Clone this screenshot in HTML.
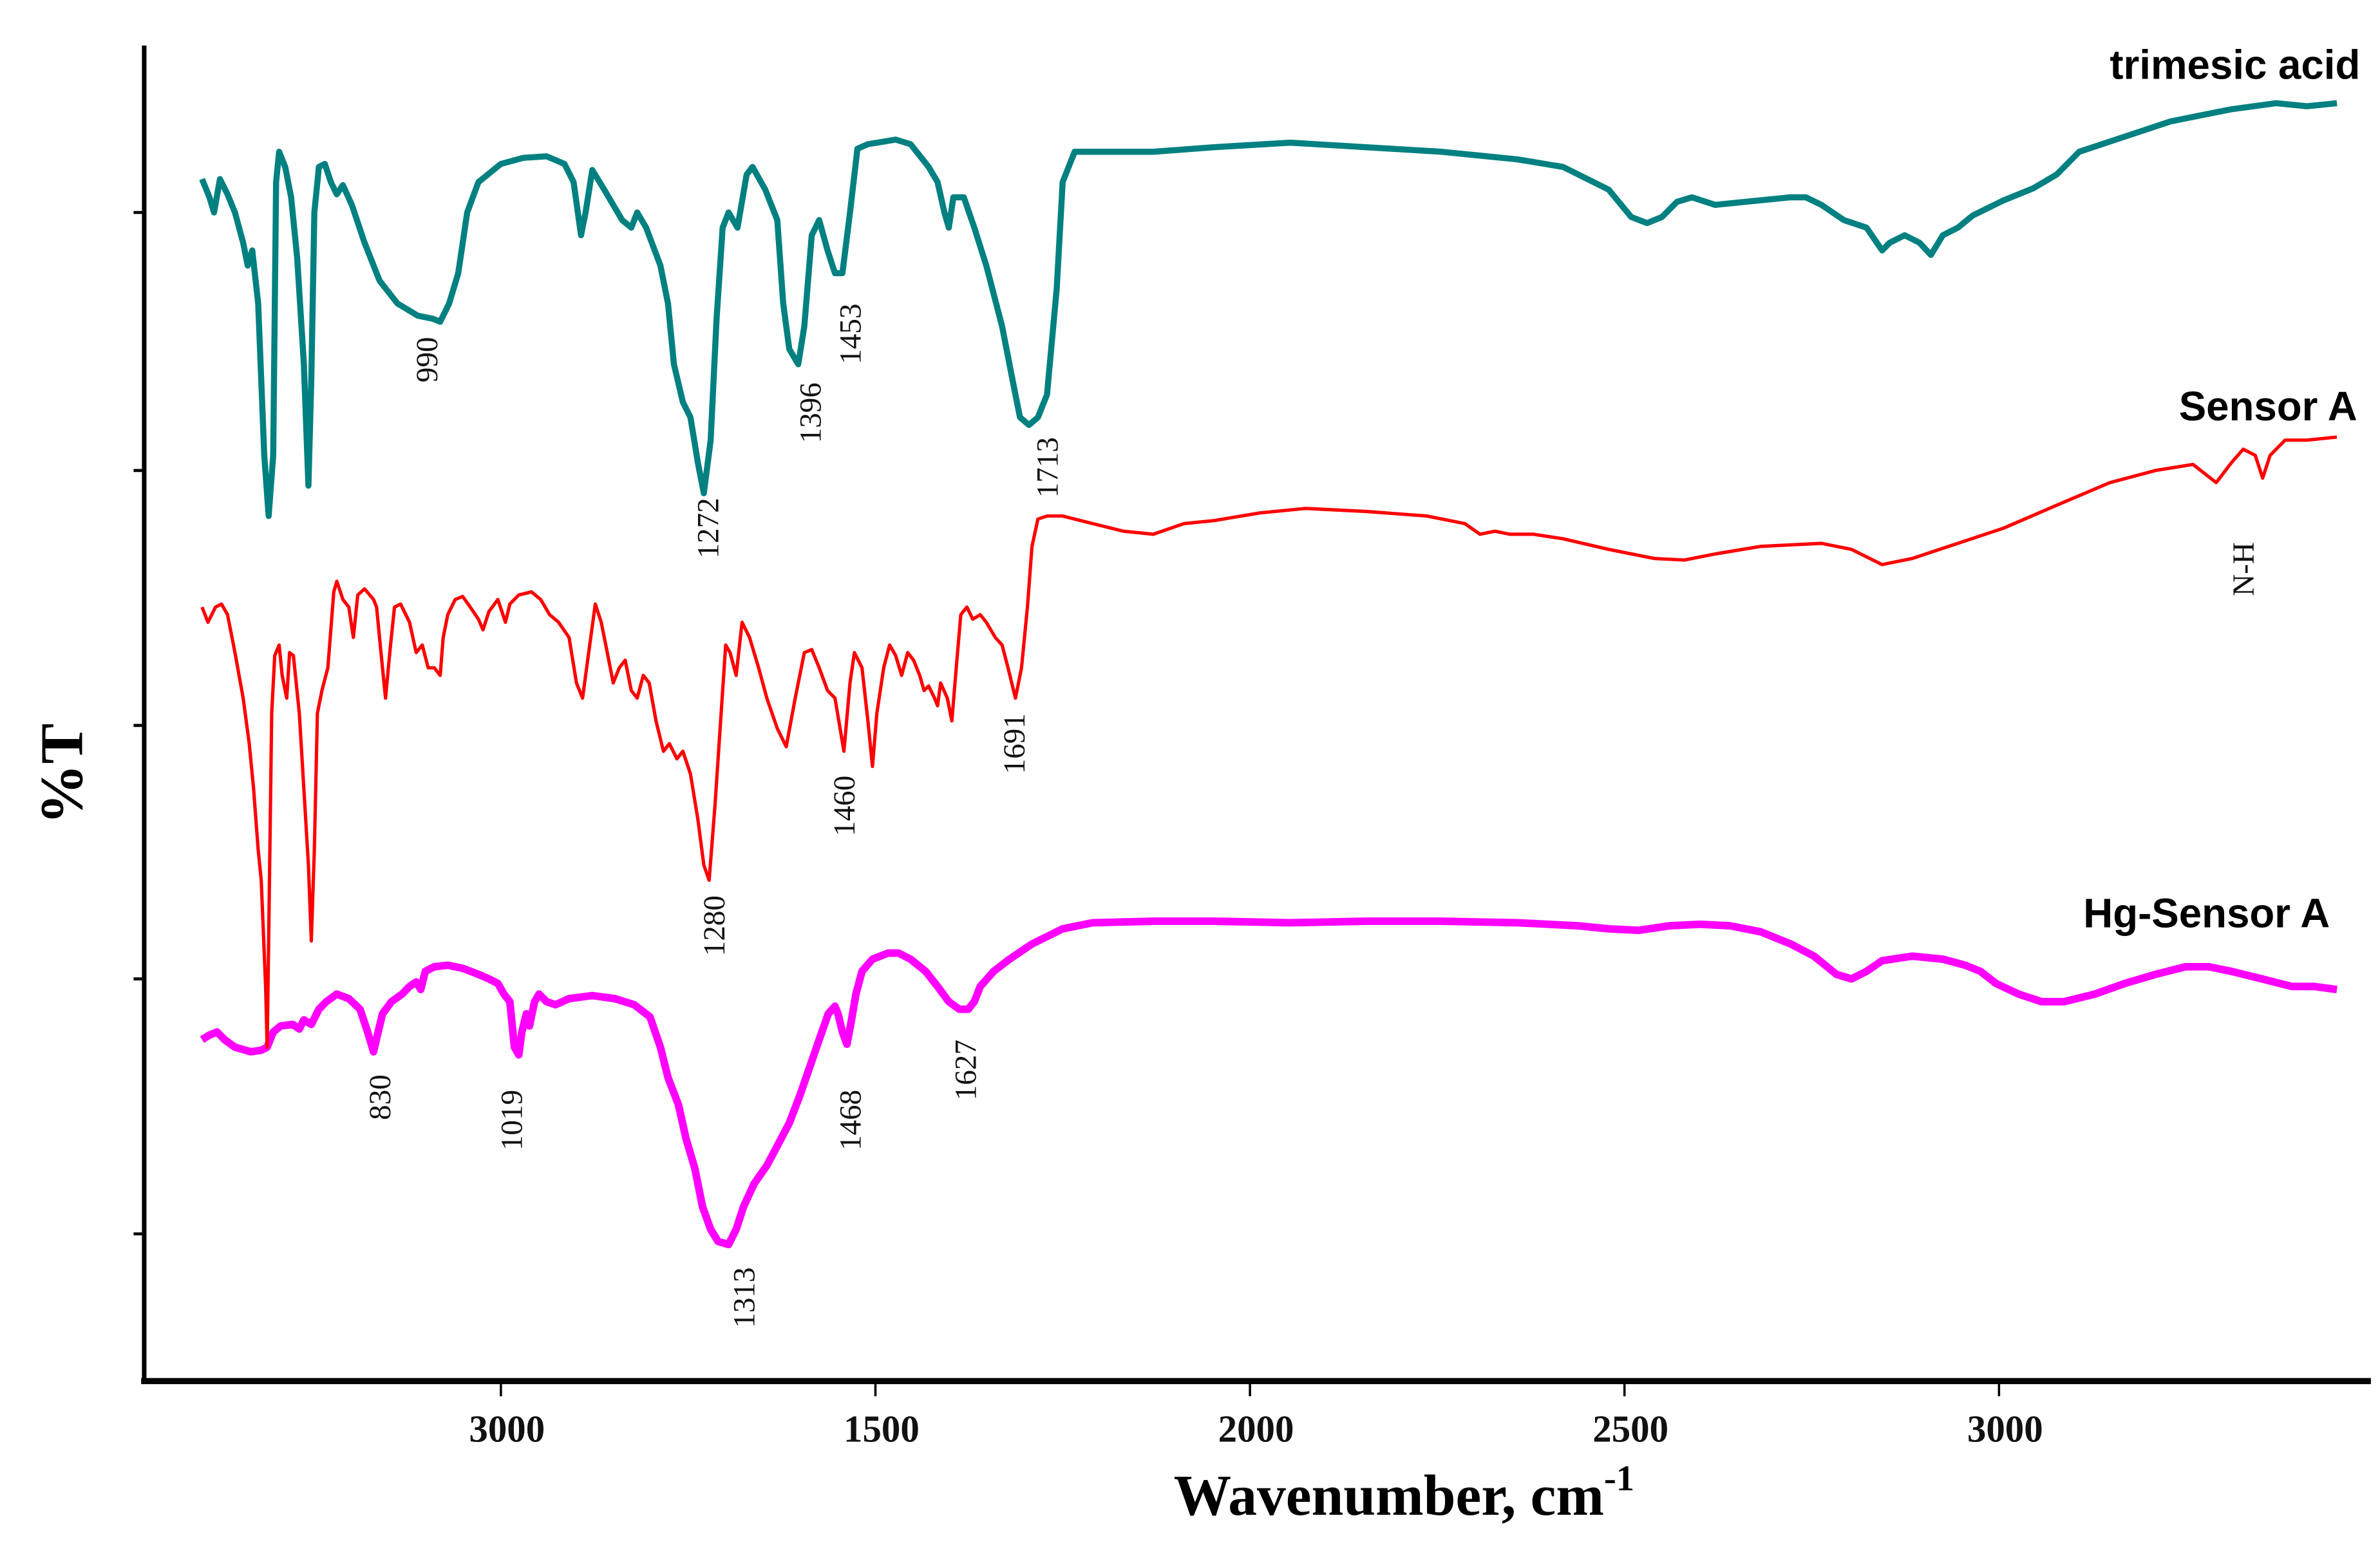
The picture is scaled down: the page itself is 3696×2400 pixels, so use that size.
<!DOCTYPE html>
<html><head><meta charset="utf-8"><style>
html,body{margin:0;padding:0;background:#fff;}
svg{display:block;}
text{font-family:"Liberation Serif",serif;}
.lbl{font-size:20px;fill:#111;}
.tick{font-size:25px;font-weight:bold;fill:#111;}
.ser{font-family:"Liberation Sans",sans-serif;font-weight:bold;font-size:27px;fill:#000;}
</style></head><body>
<svg id="chart" width="3696" height="2400" viewBox="0 0 1568 1018" preserveAspectRatio="none" xmlns="http://www.w3.org/2000/svg">
<g id="axes">
<line x1="95" y1="30" x2="95" y2="911" stroke="#000" stroke-width="3"/>
<line x1="93" y1="910" x2="1562" y2="910" stroke="#000" stroke-width="4"/>
</g>
<g id="yticks"></g>
<g id="xticks"></g>
<g id="series"></g>
<g id="peaks"></g>
<text transform="translate(54,510) rotate(-90)" text-anchor="middle" font-size="40" font-weight="bold">%T</text>
<text x="925" y="998" text-anchor="middle" font-size="38" font-weight="bold">Wavenumber, cm<tspan font-size="24" dy="-16">-1</tspan></text>
<text class="ser" x="1555" y="52" text-anchor="end">trimesic acid</text>
<text class="ser" x="1553" y="277" text-anchor="end">Sensor A</text>
<text class="ser" x="1535" y="611" text-anchor="end">Hg-Sensor A</text>
</svg>
<script>
const xTickValues=[1000,1500,2000,2500,3000];
const xTickLabels=["3000","1500","2000","2500","3000"];
const yTickValues=[77,60,43.2,26.5,9.7];

const trimesicWn=[601,611,617,625,635,645,656,662,668,676,684,690,696,700,704,712,720,728,737,743,747,751,757,765,773,781,789,801,818,838,862,889,909,919,931,943,955,970,1000,1030,1061,1085,1097,1107,1113,1122,1138,1162,1174,1182,1194,1213,1223,1231,1243,1253,1263,1271,1280,1288,1296,1304,1316,1328,1336,1353,1369,1377,1385,1397,1405,1415,1425,1436,1446,1456,1466,1476,1490,1527,1547,1571,1583,1592,1598,1604,1618,1632,1648,1669,1685,1693,1705,1717,1729,1742,1750,1766,1790,1871,1952,2054,2155,2256,2357,2418,2479,2509,2530,2550,2570,2590,2621,2661,2722,2742,2763,2793,2823,2844,2854,2874,2894,2909,2925,2945,2965,3006,3046,3077,3107,3168,3229,3310,3370,3411,3451];
const trimesicT=[79.2,78,77,79.2,78.2,77,75,73.5,74.5,71,61,57,61,79,81,80,78,74,67,59,66,77,80,80.2,79,78.2,78.8,77.5,75,72.5,71,70.2,70,69.8,71,73,77,79,80.2,80.6,80.7,80.2,79,75.5,77,79.8,78.5,76.5,76,77,76,73.5,71,67,64.5,63.5,60.5,58.5,62,70,76,77,76,79.5,80,78.5,76.5,71,68,67,69.5,75.5,76.5,74.5,73,73,77,81.2,81.5,81.8,81.5,80,79,77,76,78,78,76,73.5,69.5,65.5,63.5,63,63.5,65,72,79,81,81,81,81.3,81.6,81.3,81,80.5,80,78.5,76.7,76.3,76.7,77.7,78,77.5,77.7,78,78,77.5,76.5,76,74.5,75,75.5,75,74.2,75.5,76,76.8,77.8,78.6,79.5,81,82,83,83.8,84.2,84,84.2];

const sensorWn=[601,609,619,627,635,645,656,664,670,676,680,686,688,690,694,698,704,708,714,718,723,731,737,743,747,751,755,761,769,777,781,789,797,803,809,818,830,834,840,846,852,858,866,878,887,895,903,911,919,923,929,939,949,959,970,976,984,996,1006,1012,1024,1041,1053,1065,1077,1091,1101,1109,1120,1126,1134,1142,1150,1158,1166,1174,1182,1190,1198,1207,1217,1225,1235,1243,1253,1263,1271,1278,1286,1294,1300,1306,1314,1322,1332,1344,1355,1369,1381,1393,1405,1415,1425,1436,1446,1458,1466,1472,1482,1490,1496,1502,1511,1519,1527,1535,1543,1551,1559,1565,1571,1579,1583,1587,1596,1602,1608,1614,1622,1630,1640,1648,1660,1669,1677,1687,1695,1703,1709,1717,1729,1750,1790,1831,1871,1912,1952,2013,2074,2155,2236,2287,2307,2327,2347,2378,2418,2479,2540,2580,2621,2682,2763,2803,2844,2884,2945,3006,3067,3148,3209,3259,3290,3310,3326,3342,3352,3362,3382,3411,3451];
const sensorT=[51,50,51,51.2,50.5,48,45,42,39,35,33,26,22,29,44,47.8,48.5,46.5,45,48,47.8,44,39,34,29,35,44,45.5,47,52,52.7,51.5,51,49,51.8,52.2,51.5,51,48,45,48.2,51,51.2,50,48,48.5,47,47,46.5,49,50.5,51.5,51.7,51,50.2,49.5,50.7,51.5,50,51.2,51.8,52,51.5,50.5,50,49,46,45,49,51.2,50,48,46,47,47.5,45.5,45,46.5,46,43.5,41.5,42,41,41.5,40,37,34,33,38,44,48.5,48,46.5,50,49,47,45,43,41.8,45,48,48.2,47,45.5,45,41.5,46,48,47,43.5,40.5,44,47,48.5,47.8,46.5,48,47.5,46.5,45.5,45.8,45,44.5,46,45,43.5,47,50.5,51,50.2,50.5,50,49,48.5,47,45,47,51,55,56.8,57,57,56.5,56,55.8,56.5,56.7,57.2,57.5,57.3,57,56.5,55.8,56,55.8,55.8,55.5,54.8,54.2,54.1,54.5,55,55.2,54.8,53.8,54.2,55.2,56.2,57.5,59.2,60,60.4,59.2,60.5,61.4,61,59.5,61,62,62,62.2];

const hgWn=[601,611,621,631,645,666,680,688,696,706,722,731,737,747,757,767,781,797,812,822,830,836,842,854,868,878,887,893,899,911,929,949,970,984,996,1004,1012,1018,1024,1028,1034,1038,1045,1051,1061,1073,1091,1122,1152,1178,1199,1213,1223,1237,1247,1259,1269,1280,1290,1304,1314,1324,1338,1355,1369,1385,1399,1411,1425,1437,1446,1450,1456,1462,1468,1474,1482,1496,1517,1531,1547,1567,1583,1598,1612,1624,1632,1640,1658,1679,1709,1750,1790,1871,1952,2054,2155,2256,2357,2438,2479,2519,2560,2601,2641,2682,2722,2753,2783,2803,2823,2844,2884,2925,2955,2975,2996,3026,3057,3087,3128,3168,3209,3249,3280,3310,3351,3391,3421,3451];
const hgT=[22.5,22.8,23,22.5,22,21.7,21.8,22,23,23.4,23.5,23.2,23.8,23.5,24.5,25,25.5,25.2,24.5,23,21.7,23,24.2,25,25.5,26,26.3,25.8,27,27.3,27.4,27.2,26.8,26.5,26.2,25.5,25,22,21.5,23,24.2,23.4,25,25.5,25,24.8,25.2,25.4,25.2,24.8,24,22,20,18.2,16,14,11.5,10,9.2,9,10,11.5,13,14.2,15.5,17,18.8,20.5,22.5,24.2,24.7,24.2,23,22.2,23.8,25.5,27,27.8,28.2,28.2,27.8,27,26,25,24.5,24.5,25,26,27,27.8,28.8,29.8,30.2,30.3,30.3,30.2,30.3,30.3,30.2,30,29.8,29.7,30,30.1,30,29.6,28.8,28,26.8,26.5,27,27.7,28,27.8,27.4,27,26.2,25.5,25,25,25.5,26.2,26.8,27.3,27.3,27,26.5,26,26,25.8];

const peakTexts=["990","1272","1396","1453","1713","1280","1460","1691","N-H","830","1019","1313","1468","1627"];
const peakWn=[901,1276,1413,1466,1729,1284,1458,1685,3326,838,1014,1324,1466,1620];
const peakLabelT=[67.3,56.2,63.8,69,60.2,30,37.9,42,53.5,18.7,17.2,5.5,17.2,20.5];

const NS="http://www.w3.org/2000/svg";
function xs(w){return 330+(w-1000)*0.4935;}
function ys(t){return 910-t*10;}

const yt=document.getElementById('yticks');
yTickValues.forEach(v=>{
  const l=document.createElementNS(NS,'line');
  
  
  l.setAttribute('x1',88);l.setAttribute('x2',95);
  l.setAttribute('y1',ys(v));l.setAttribute('y2',ys(v));
  l.setAttribute('stroke','#000');l.setAttribute('stroke-width','2');
  yt.appendChild(l);
});
const xt=document.getElementById('xticks');
xTickValues.forEach((v,i)=>{
  const l=document.createElementNS(NS,'line');
  
  
  l.setAttribute('x1',xs(v));l.setAttribute('x2',xs(v));
  l.setAttribute('y1',910);l.setAttribute('y2',920);
  l.setAttribute('stroke','#000');l.setAttribute('stroke-width','1.5');
  xt.appendChild(l);
  const t=document.createElementNS(NS,'text');
  
  
  t.setAttribute('class','tick');
  t.setAttribute('x',xs(v)+4);t.setAttribute('y',950);
  t.setAttribute('text-anchor','middle');
  t.textContent=xTickLabels[i];
  xt.appendChild(t);
});

const sg=document.getElementById('series');
function drawSeries(wn,tv,color,width,name){
  const p=document.createElementNS(NS,'path');
  let d='';
  for(let i=0;i<wn.length;i++){d+=(i?'L':'M')+xs(wn[i]).toFixed(1)+','+ys(tv[i]).toFixed(1);}
  p.setAttribute('d',d);
  p.setAttribute('fill','none');
  p.setAttribute('stroke',color);
  p.setAttribute('stroke-width',width);
  p.setAttribute('stroke-linejoin','round');
  
  
  sg.appendChild(p);
}
drawSeries(hgWn,hgT,'#ff00ff',5,'hg-sensor-a-line');
drawSeries(sensorWn,sensorT,'#ff0000',2.2,'sensor-a-line');
drawSeries(trimesicWn,trimesicT,'#008080',4,'trimesic-acid-line');

const pg=document.getElementById('peaks');
peakTexts.forEach((s,i)=>{
  const t=document.createElementNS(NS,'text');
  
  
  t.setAttribute('class','lbl');
  const x=xs(peakWn[i])+7, y=ys(peakLabelT[i]);
  t.setAttribute('transform','translate('+x.toFixed(1)+','+y.toFixed(1)+') rotate(-90)');
  t.setAttribute('text-anchor','middle');
  if(s==='N-H'){t.setAttribute('font-size','16');}
  t.textContent=s;
  pg.appendChild(t);
});
</script>
</body></html>
